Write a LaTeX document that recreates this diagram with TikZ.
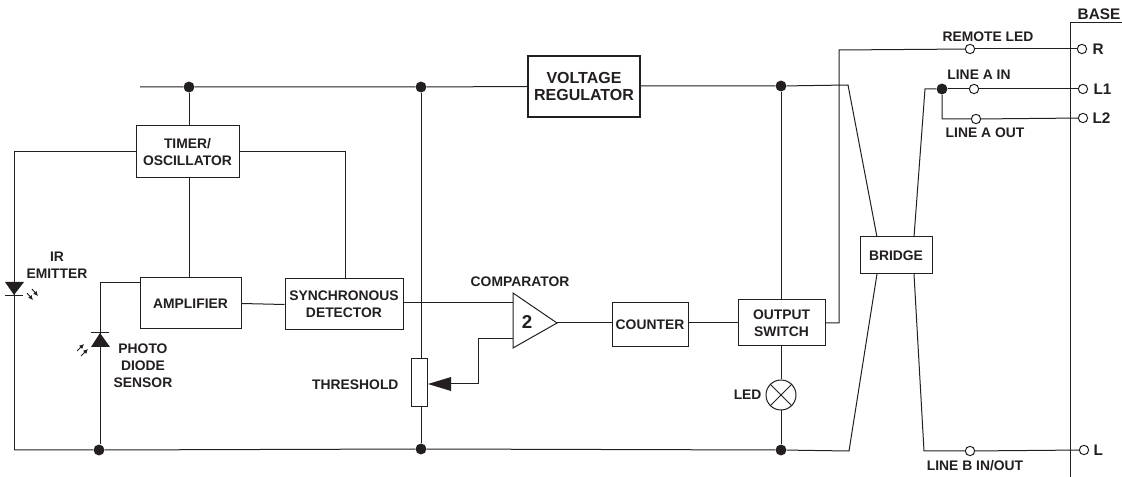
\documentclass[tikz,border=0pt]{standalone}
\usepackage{fontspec}
\usetikzlibrary{arrows.meta}
\setmainfont{Liberation Sans}
\definecolor{ink}{HTML}{231F20}
\begin{document}
\begin{tikzpicture}[x=0.75pt, y=-0.75pt, line width=0.75pt, draw=ink, text=ink]
    \useasboundingbox (0,0) rectangle (1122,477);
    \tikzstyle{every node}=[inner sep=0pt, align=center, font=\fontsize{10.4}{12.6}\selectfont\bfseries]
    \tikzstyle{block}=[draw, fill=white]
    \tikzstyle{dot}=[circle, fill=ink, minimum size=8.2pt]
    \tikzstyle{pin}=[circle, draw, fill=white, minimum size=7pt]
    \tikzstyle{ray}=[line width=0.7pt, -{Latex[length=3.5pt,width=3.5pt]}]
    % blocks
    \node[block, line width=1.6pt, minimum width=84pt, minimum height=45.75pt, font=\fontsize{12}{13}\selectfont\bfseries] (regulator) at (584, 86.5) {VOLTAGE\\REGULATOR};
    \node[block, minimum width=77.25pt, minimum height=39pt]   (timer)  at (187.5, 152) {TIMER/\\OSCILLATOR};
    \node[block, minimum width=75.75pt, minimum height=38.25pt] (amp)   at (190.5, 303.5) {AMPLIFIER};
    \node[block, minimum width=88.5pt, minimum height=38.25pt]  (sync)  at (344, 304.5) {SYNCHRONOUS\\DETECTOR};
    \node[block, minimum width=57pt, minimum height=33pt]       (counter) at (650, 325) {COUNTER};
    \node[block, minimum width=65.25pt, minimum height=34.5pt]  (output)  at (781.5, 323) {OUTPUT\\SWITCH};
    \node[block, minimum width=54pt, minimum height=27.75pt]    (bridge)  at (896, 255.5) {BRIDGE};
    \node[block, minimum width=12pt, minimum height=36pt]       (pot)     at (419.5, 383) {};
    \node[circle, draw, fill=white, minimum size=22.5pt]        (led)     at (781, 395) {};
    \draw (led.45) -- (led.225);
    \draw (led.135) -- (led.315);
    % junctions
    \node[dot] (topa) at (189, 87) {};
    \node[dot] (topb) at (421, 87) {};
    \node[dot] (topc) at (781, 86) {};
    \node[dot] (lowa) at (99, 450) {};
    \node[dot] (lowb) at (421, 449) {};
    \node[dot] (lowc) at (781, 450) {};
    \node[dot] (linea) at (942, 89) {};
    % terminals
    \node[pin] (remote) at (970, 49) {};
    \node[pin] (ain)    at (974, 89) {};
    \node[pin] (aout)   at (976, 119) {};
    \node[pin] (bio)    at (970, 451) {};
    \node[pin] (pinr)   at (1082, 49) {};
    \node[pin] (pina)   at (1083, 89) {};
    \node[pin] (pinb)   at (1083, 118) {};
    \node[pin] (pinl)   at (1084, 450) {};
    % comparator
    \coordinate (cmpa) at (513, 293);
    \coordinate (cmpb) at (513, 348);
    \coordinate (cmpc) at (557, 323);
    \coordinate (cmpplus) at (513, 303);
    \coordinate (cmpminus) at (513, 339);
    \draw[fill=white] (cmpa) -- (cmpc) -- (cmpb) -- cycle;
    \node[font=\fontsize{14}{15}\selectfont\bfseries] (cmptwo) at (527, 322) {2};
    % rails
    \coordinate (railstart) at (140, 87);
    \coordinate (railend) at (848, 85);
    \coordinate (lowstart) at (14, 450);
    \coordinate (lowend) at (849, 451);
    \draw (railstart) -- (topa) -- (topb) -- (regulator.west);
    \draw (regulator.east |- topc) -- (topc) -- (railend) -- (877, 237);
    \draw (lowstart) -- (lowa) -- (lowb) -- (lowc) -- (lowend) -- (877, 274);
    % timer and sensors
    \coordinate (emitter) at (14, 152);
    \coordinate (syncturn) at (345, 152);
    \coordinate (ampturn) at (100, 283);
    \draw (topa) -- (timer.north -| topa);
    \draw (timer.west) -- (emitter) -- (lowstart);
    \draw (timer.east) -- (syncturn) -- (syncturn |- sync.north);
    \draw (timer.south -| topa) -- (amp.north -| topa);
    \draw (amp.west |- ampturn) -- (ampturn) -- (lowa.north -| ampturn);
    \draw (amp.east) -- (sync.west);
    % emitter diode
    \fill[ink] (5, 282) -- (24, 282) -- (14, 295) -- cycle;
    \draw (5, 295.5) -- (23, 295.5);
    \draw[ray] (27, 293) -- (33, 300);
    \draw[ray] (32, 289) -- (38, 296);
    % sensor diode
    \fill[ink] (100, 333) -- (110, 347) -- (91, 347) -- cycle;
    \draw (91, 333) -- (109, 333);
    \draw[ray] (77, 351) -- (84, 344);
    \draw[ray] (81, 356) -- (88, 349);
    % threshold
    \coordinate (wiper) at (478, 384);
    \draw (topb) -- (pot.north -| topb);
    \draw (pot.south -| topb) -- (lowb);
    \draw (sync.east |- cmpplus) -- (cmpplus);
    \draw (cmpminus) -- (cmpminus -| wiper) -- (wiper) -- (450, 384);
    \fill[ink] (428, 384) -- (451, 377) -- (451, 391) -- cycle;
    % output path
    \coordinate (remoteturn) at (839, 50);
    \coordinate (remotein) at (839, 323);
    \draw (cmpc) -- (cmpc -| counter.west);
    \draw (counter.east |- cmpc) -- (output.west);
    \draw (topc) -- (output.north -| topc);
    \draw (output.south -| topc) -- (led);
    \draw (led) -- (lowc);
    \draw (output.east) -- (remotein) -- (remoteturn) -- (remote);
    \draw (remote) -- (pinr);
    % bridge lines
    \coordinate (bridgeup) at (925, 89);
    \coordinate (bridgedown) at (924, 451);
    \coordinate (aoutturn) at (942, 119);
    \draw (914, 237) -- (bridgeup) -- (linea);
    \draw (linea) -- (ain) -- (pina);
    \draw (linea) -- (aoutturn) -- (aout) -- (pinb);
    \draw (914, 274) -- (bridgedown) -- (bio) -- (pinl);
    % base
    \coordinate (basetop) at (1070, 23);
    \coordinate (basebottom) at (1070, 477);
    \coordinate (baseright) at (1122, 23);
    \draw (baseright) -- (basetop) -- (basebottom);
    % labels
    \node (lblemitter) at (57, 265.5) {IR\\EMITTER};
    \node (lblsensor) at (143, 365.5) {PHOTO\\DIODE\\SENSOR};
    \node[anchor=east] (lblthreshold) at (399, 385) {THRESHOLD};
    \node (lblcomparator) at (520, 282) {COMPARATOR};
    \node[anchor=east] (lblled) at (762, 395) {LED};
    \node (lblremote) at (988, 37) {REMOTE LED};
    \node (lblain) at (979, 75) {LINE A IN};
    \node (lblaout) at (985, 133) {LINE A OUT};
    \node (lblbio) at (975, 466) {LINE B IN/OUT};
    \tikzstyle{every node}=[inner sep=0pt, font=\fontsize{11.5}{13}\selectfont\bfseries]
    \node (lblbase) at (1099, 14) {BASE};
    \node[anchor=west] (lblr) at (1092, 49) {R};
    \node[anchor=west] (lbla) at (1093, 89) {L1};
    \node[anchor=west] (lblb) at (1092, 118) {L2};
    \node[anchor=west] (lbll) at (1093, 450) {L};
\end{tikzpicture}
\end{document}
